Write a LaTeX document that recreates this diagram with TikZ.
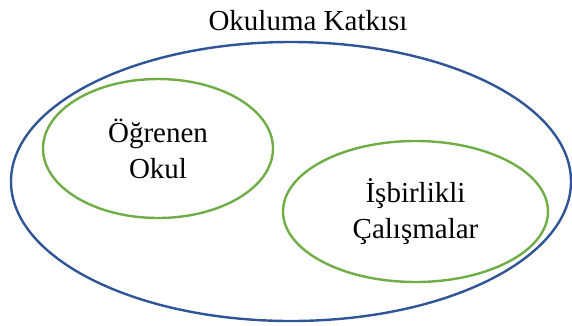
\documentclass[tikz,border=0pt]{standalone}
\usepackage{fontspec}
\setmainfont{Liberation Serif}
\usepackage{tikz}
\usepackage{xcolor}
\usetikzlibrary{shapes.geometric}

\definecolor{okblue}{HTML}{2F5597}
\definecolor{okgreen}{HTML}{70AD47}

\begin{document}
\begin{tikzpicture}[x=1pt, y=-1pt,
    every node/.style={font=\fontsize{29}{36}\selectfont},
    outer/.style={ellipse, draw=okblue, line width=2.4pt, inner sep=0pt},
    inner/.style={ellipse, draw=okgreen, line width=2.4pt, align=center, inner sep=0pt}]
    \useasboundingbox (0,0) rectangle (572,325);
    \node[outer, minimum width=560pt, minimum height=279pt] (katki) at (291,181.5) {};
    \node[inner, minimum width=230pt, minimum height=139pt] (ogrenen) at (158,148.5) {Öğrenen\\Okul};
    \node[inner, minimum width=265pt, minimum height=141pt] (isbirligi) at (415.5,211.5) {İşbirlikli\\Çalışmalar};
    \node[anchor=base] (baslik) at (308,30) {Okuluma Katkısı};
\end{tikzpicture}
\end{document}
